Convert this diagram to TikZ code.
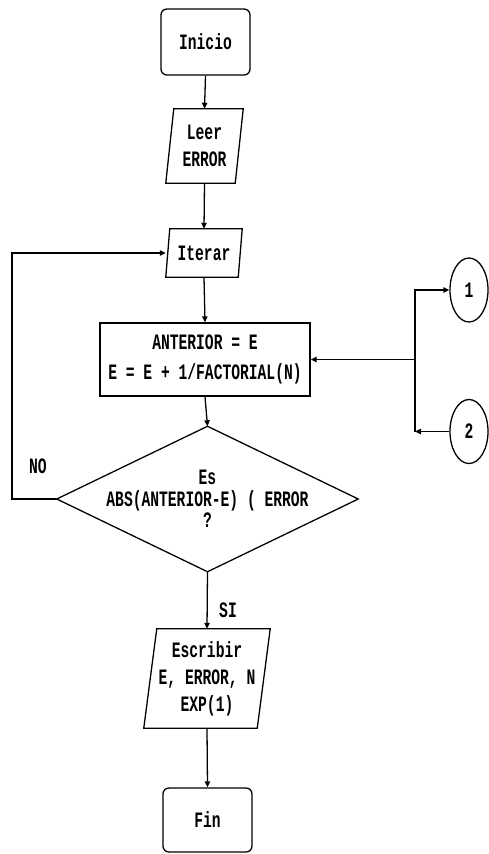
\documentclass[tikz,border=0pt]{standalone}
\usepackage{fontspec}
\usepackage{graphicx}
\setmonofont{Liberation Mono}
\usetikzlibrary{arrows.meta,shapes.geometric}
\newcommand\tl[1]{\scalebox{1}[1.5]{#1}}
\begin{document}
\begin{tikzpicture}[x=0.03cm,y=-0.03cm,
  lbl/.style={font=\ttfamily\bfseries\fontsize{12.5}{23}\selectfont, align=center, inner sep=0pt},
  edge/.style={line width=1.1pt},
  flow/.style={edge, -{Triangle[length=0.18cm,width=0.16cm]}},
  outline/.style={draw, edge}]
\path[use as bounding box, fill=white] (0,0) rectangle (489,854);

% nodes
\node[lbl, outline, rounded corners=0.18cm, minimum width=2.67cm, minimum height=1.98cm] (inicio) at (205.5,42) {\tl{Inicio}};
\node[lbl, minimum width=2.31cm, minimum height=2.22cm] (leer) at (204.5,146) {\tl{Leer}\\\tl{ERROR}};
\draw[edge] ([xshift=0.24cm]leer.north west) -- (leer.north east) -- ([xshift=-0.24cm]leer.south east) -- (leer.south west) -- cycle;
\node[lbl, minimum width=2.28cm, minimum height=1.44cm] (iter) at (204,253) {\tl{Iterar}};
\draw[edge] ([xshift=0.12cm]iter.north west) -- (iter.north east) -- ([xshift=-0.12cm]iter.south east) -- (iter.south west) -- cycle;
\node[lbl, outline, font=\ttfamily\bfseries\fontsize{12.5}{26}\selectfont, minimum width=6.3cm, minimum height=2.19cm] (calc) at (205,359.5) {\tl{ANTERIOR = E}\\\tl{E = E + 1/FACTORIAL(N)}};
\node[lbl, font=\ttfamily\bfseries\fontsize{12.5}{18.5}\selectfont, minimum width=9.03cm, minimum height=4.35cm] (dec) at (207.5,499) {\tl{Es}\\\tl{ABS(ANTERIOR-E) ( ERROR}\\\tl{?}};
\draw[edge] (dec.north) -- (dec.east) -- (dec.south) -- (dec.west) -- cycle;
\node[lbl, minimum width=3.78cm, minimum height=2.97cm] (esc) at (207,678.5) {\tl{Escribir}\\\tl{E, ERROR, N}\\\tl{EXP(1)}};
\draw[edge] ([xshift=0.39cm]esc.north west) -- (esc.north east) -- ([xshift=-0.39cm]esc.south east) -- (esc.south west) -- cycle;
\node[lbl, outline, rounded corners=0.18cm, minimum width=2.67cm, minimum height=1.92cm] (fin) at (207.5,820) {\tl{Fin}};
\node[lbl, outline, ellipse, minimum width=1.14cm, minimum height=1.92cm] (c1) at (469,290) {\tl{1}};
\node[lbl, outline, ellipse, minimum width=1.14cm, minimum height=1.92cm] (c2) at (469,431.5) {\tl{2}};
\node[lbl] (no) at (38,466) {\tl{NO}};
\node[lbl] (si) at (228,610) {\tl{SI}};

% connectors
\draw[flow] (inicio.south) -- (leer.north);
\draw[flow] (leer.south) -- (iter.north);
\draw[flow] (iter.south) -- (calc.north);
\draw[flow] (calc.south) -- (dec.north);
\draw[flow] (dec.south) -- (esc.north);
\draw[flow] (esc.south) -- (fin.north);
\draw[flow] (dec.west) -- (12,499) |- (iter.west);
\coordinate (j) at (415,359.5);
\coordinate (k) at (415,431.5);
\draw[flow] (j) -- (calc.east);
\draw[flow] (j) |- (c1.west);
\draw[flow] (c2.west) -- (k);
\draw[edge] (k) -- (j);
\end{tikzpicture}
\end{document}
